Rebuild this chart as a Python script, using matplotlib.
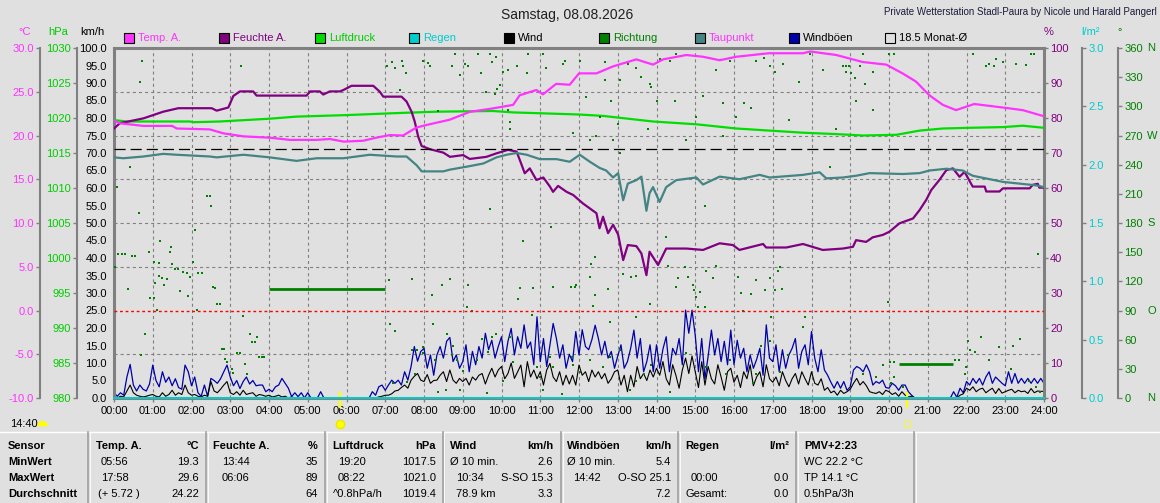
import matplotlib
matplotlib.use("Agg")
import matplotlib.pyplot as plt
import matplotlib.ticker as mtick
import matplotlib.transforms as mtrans
from matplotlib.patches import Rectangle
from matplotlib.lines import Line2D
import numpy as np

plt.rcParams["font.family"] = ["Liberation Sans", "DejaVu Sans"]
plt.rcParams["lines.scale_dashes"] = False

BG = "#E0E0E0"
AXIS_GRAY = "#808080"
TEMP_COLOR = "#FF33FF"
HUM_COLOR = "#800080"
PRES_COLOR = "#00DD00"
PRES_TEXT = "#00CC00"
RAIN_COLOR = "#00CCCC"
WIND_COLOR = "#000000"
DIR_COLOR = "#008000"
DEW_COLOR = "#448484"
GUST_COLOR = "#0000AA"

# ---- data ----------------------------------------------------------------
TEMP_H = [0.0, 0.15, 0.75, 1.5, 1.62, 2.47, 2.82, 3.34, 4.02, 4.54, 5.23, 5.57,
          5.93, 6.43, 6.77, 7.12, 7.46, 7.8, 8.06, 8.66, 9.18, 9.78, 10.3, 10.47,
          10.9, 11.07, 11.41, 11.76, 12.0, 12.45, 12.88, 13.48, 13.91, 14.17, 14.77,
          15.2, 15.63, 16.06, 16.9, 17.78, 17.97, 18.64, 19.32, 19.93, 20.35, 20.7,
          21.04, 21.39, 21.73, 22.2, 22.93, 23.45, 24.0]
TEMP_C = [21.7, 21.4, 21.1, 21.1, 20.8, 20.7, 20.25, 19.9, 19.75, 19.5, 19.5, 19.6,
          19.3, 19.4, 19.75, 20.05, 20.0, 20.9, 21.2, 21.8, 22.7, 23.1, 23.5, 24.6,
          25.2, 24.7, 25.9, 25.8, 27.1, 27.1, 27.9, 28.7, 28.1, 28.7, 29.2,
          29.0, 28.6, 29.0, 29.4, 29.4, 29.6, 29.2, 28.4, 28.1, 27.1, 26.15,
          24.6, 23.5, 22.9, 23.6, 23.2, 22.9, 22.2]

HUM_H = [0.0, 0.15, 0.76, 1.27, 1.66, 2.52, 2.65, 2.95, 3.08, 3.25, 3.59, 3.68,
         4.97, 5.06, 5.31, 5.4, 5.57, 5.83, 5.92, 6.13, 6.69, 6.86, 6.95, 7.42,
         7.55, 7.68, 7.76, 7.85, 7.94, 8.15, 8.5, 8.67, 9.01, 9.18, 9.61, 9.87,
         10.17, 10.39, 10.52, 10.6, 10.73, 10.9, 11.08, 11.25, 11.33, 11.46, 11.68,
         11.85, 12.1, 12.45, 12.53, 12.62, 12.75, 12.88, 13.01, 13.14, 13.26, 13.48,
         13.61, 13.74, 13.82, 14.04, 14.25, 14.77, 15.2, 15.63, 15.97, 16.14, 16.75,
         16.83, 17.35, 17.78, 18.29, 18.81, 19.07, 19.15, 19.41, 19.58, 19.84, 20.01,
         20.27, 20.62, 20.79, 20.96, 21.09, 21.3, 21.48, 21.65, 21.82, 21.95, 22.16,
         22.47, 22.51, 22.85, 22.94, 23.63, 23.71, 23.84, 23.88, 24.0]
HUM_PCT = [77.0, 78.5, 79.9, 81.8, 82.8, 82.8, 82.1, 83.0, 86.3, 87.6, 87.6, 86.4,
           86.4, 87.6, 87.6, 86.7, 87.6, 87.6, 88.0, 89.2, 89.2, 87.5, 86.1, 86.1,
           84.7, 81.8, 79.0, 74.7, 72.0, 71.1, 70.1, 68.9, 69.4, 68.3, 68.9, 69.9,
           70.9, 70.4, 66.6, 64.2, 65.6, 62.3, 63.0, 60.4, 58.9, 60.6, 58.9,
           58.0, 55.6, 52.8, 48.5, 51.8, 47.1, 49.5, 46.7, 39.4, 43.7, 43.4,
           41.3, 35.1, 41.8, 38.0, 42.7, 42.7, 42.3, 44.2, 43.7, 42.3, 44.0,
           43.0, 43.0, 44.0, 42.3, 42.7, 43.2, 45.1, 44.6, 45.9, 46.6, 47.5,
           49.9, 51.3, 53.7, 56.6, 59.4, 62.3, 65.1, 65.6, 63.2, 64.6, 60.4,
           60.4, 59.0, 59.0, 59.9, 59.9, 60.9, 61.2, 60.1, 60.1]

PRES_H = [0.0, 0.33, 1.96, 2.05, 2.73, 4.02, 4.71, 5.92, 7.29, 8.32, 9.78, 10.3,
          12.0, 12.62, 13.91, 15.03, 16.06, 16.92, 17.78, 18.64, 19.33, 20.19,
          20.79, 21.39, 22.08, 22.94, 23.45, 24.0]
PRES_HPA = [1019.7, 1019.5, 1019.5, 1019.4, 1019.5, 1019.9, 1020.2, 1020.4, 1020.7,
            1020.9, 1021.0, 1020.8, 1020.5, 1020.3, 1019.5, 1019.1, 1018.5, 1018.2,
            1017.9, 1017.7, 1017.5, 1017.6, 1018.2, 1018.5, 1018.6, 1018.7, 1018.9,
            1018.6]

DEW_H = [0.0, 0.24, 0.76, 1.27, 1.62, 2.48, 2.65, 3.34, 4.02, 4.71, 5.23, 5.92,
         6.6, 7.29, 7.55, 7.81, 7.94, 8.5, 8.67, 9.18, 9.53, 9.87, 10.13, 10.39,
         10.65, 10.99, 11.42, 11.76, 12.02, 12.28, 12.53, 12.7, 12.88, 13.01, 13.14,
         13.26, 13.48, 13.61, 13.74, 13.82, 13.91, 14.08, 14.25, 14.51, 15.03, 15.2,
         15.63, 16.14, 16.66, 16.92, 17.78, 18.21, 18.38, 18.81, 19.15, 19.5, 20.36,
         20.79, 21.05, 21.48, 21.9, 22.16, 22.94, 23.8, 24.0]
DEW_C = [17.5, 17.4, 17.6, 17.9, 17.8, 17.6, 17.5, 17.8, 17.5, 17.1, 17.4, 17.4,
         17.8, 17.6, 17.6, 16.6, 15.9, 15.9, 16.1, 16.5, 16.8, 17.5, 17.8, 18.0,
         17.8, 17.3, 17.3, 17.0, 17.8, 17.0, 16.3, 16.0, 15.2, 15.7, 12.6,
         14.5, 14.9, 15.3, 11.4, 13.4, 14.1, 12.4, 14.1, 14.9, 15.2, 14.4,
         15.3, 15.0, 15.5, 15.2, 15.5, 15.8, 15.1, 15.2, 15.4, 15.7, 15.6,
         15.7, 16.0, 16.2, 16.0, 15.4, 14.7, 14.3, 14.1]

# wind and gusts, 5-minute values, one row per hour
WIND_STEP_MIN = 5
GUST_KMH = [
    1.5, 0.5, 1.5, 0.8, 6.0, 9.6, 3.7, 2.0, 3.7, 2.5, 2.0, 4.0,
    9.4, 5.0, 3.2, 7.5, 4.5, 6.0, 3.5, 5.5, 3.0, 2.5, 9.4, 7.5,
    3.5, 6.0, 1.5, 0.5, 3.7, 0.5, 5.6, 5.0, 4.2, 5.5, 7.5, 9.4,
    6.0, 3.5, 5.0, 2.7, 4.7, 6.0, 4.0, 5.0, 3.5, 3.7, 3.7, 1.8,
    2.5, 1.8, 3.2, 3.7, 5.6, 4.2, 2.8, 0.4, 1.5, 0.4, 1.5, 0.0,
    1.5, 0.0, 0.0, 0.0, 1.8, 0.0, 0.0, 0.0, 0.0, 0.0, 0.0, 0.0,
    0.0, 0.0, 0.0, 0.0, 0.0, 0.0, 0.0, 0.0, 1.8, 0.8, 3.2, 3.7,
    2.2, 3.7, 5.1, 4.2, 5.1, 3.7, 7.5, 5.1, 9.0, 14.7, 10.5, 13.3,
    14.2, 8.5, 12.3, 6.5, 12.3, 14.7, 11.4, 16.2, 17.3, 10.4, 12.3, 8.5,
    10.4, 15.2, 7.5, 13.3, 9.5, 14.7, 11.4, 18.5, 13.8, 16.5, 11.4, 14.7,
    17.5, 10.4, 16.2, 19.9, 12.3, 17.5, 14.2, 20.9, 14.2, 16.0, 9.5, 23.2,
    10.4, 17.0, 9.0, 15.2, 21.3, 17.0, 11.4, 15.2, 8.5, 12.5, 10.4, 19.0,
    12.3, 19.5, 14.7, 13.8, 16.7, 20.8, 17.0, 12.3, 16.2, 11.4, 13.3, 8.5,
    12.0, 15.2, 8.5, 10.4, 14.2, 19.4, 11.4, 17.0, 7.5, 10.4, 15.2, 7.5,
    15.2, 8.5, 14.0, 17.5, 7.5, 14.2, 12.3, 17.0, 9.5, 25.1, 18.5, 25.1,
    17.9, 7.5, 17.0, 5.5, 12.0, 19.4, 12.3, 17.0, 10.4, 16.2, 9.5, 19.4,
    9.5, 16.5, 11.4, 14.2, 7.5, 12.3, 8.5, 11.0, 14.2, 6.5, 20.9, 11.4,
    10.4, 15.2, 7.5, 13.8, 8.5, 12.3, 14.2, 17.0, 8.5, 13.3, 15.2, 9.5,
    19.0, 11.4, 7.5, 13.8, 8.0, 6.5, 4.5, 2.8, 4.7, 2.8, 4.7, 2.2,
    3.2, 8.0, 9.0, 8.5, 7.5, 9.5, 7.5, 3.7, 4.7, 4.2, 5.1, 3.0,
    2.8, 4.2, 3.5, 2.2, 3.7, 3.7, 1.8, 0.8, 0.0, 0.0, 0.0, 0.0,
    0.0, 0.0, 0.0, 0.0, 0.0, 0.0, 0.0, 0.0, 1.8, 0.2, 2.8, 1.5,
    4.7, 3.7, 5.6, 4.2, 5.6, 3.7, 6.0, 7.5, 4.2, 6.0, 5.1, 4.2,
    3.5, 7.5, 4.2, 7.0, 4.2, 5.6, 4.2, 5.6, 4.2, 5.6, 4.2, 5.6,
    4.2]
WIND_KMH = [
    0.5, 0.0, 0.5, 0.3, 2.0, 3.7, 1.5, 0.8, 0.5, 0.3, 0.5, 0.8,
    1.0, 0.5, 0.3, 1.5, 0.5, 1.0, 2.2, 0.8, 1.5, 1.0, 3.7, 1.5,
    0.8, 1.0, 0.5, 0.3, 0.8, 0.5, 4.7, 2.0, 1.5, 2.5, 3.7, 4.7,
    1.5, 1.0, 1.8, 0.8, 2.2, 1.0, 1.3, 1.5, 0.5, 1.0, 0.8, 0.5,
    0.8, 0.3, 0.5, 0.8, 0.3, 0.5, 0.0, 0.3, 0.0, 0.0, 0.0, 0.0,
    0.0, 0.0, 0.0, 0.0, 0.0, 0.0, 0.0, 0.0, 0.0, 0.0, 0.0, 0.0,
    0.0, 0.0, 0.0, 0.0, 0.0, 0.0, 0.0, 0.0, 0.0, 0.0, 0.3, 0.5,
    0.8, 0.8, 1.2, 2.0, 2.2, 3.0, 3.7, 2.8, 5.1, 6.2, 7.0, 5.1,
    4.7, 6.7, 4.2, 5.0, 5.1, 6.5, 7.5, 4.7, 8.0, 5.1, 4.2, 5.6,
    4.7, 5.6, 3.7, 6.0, 5.1, 6.5, 7.0, 4.0, 6.5, 8.5, 6.0, 8.0,
    9.0, 5.5, 7.0, 10.0, 5.6, 7.5, 9.4, 3.2, 10.4, 6.0, 8.0, 5.5,
    7.5, 3.7, 8.0, 9.9, 6.0, 4.7, 7.5, 3.7, 6.5, 4.0, 6.5, 3.7,
    9.4, 6.5, 7.5, 4.7, 8.0, 6.0, 7.5, 5.5, 7.0, 4.2, 5.5, 7.5,
    8.0, 3.7, 6.5, 1.8, 6.5, 3.2, 9.0, 5.5, 7.0, 5.0, 8.0, 6.0,
    8.5, 6.5, 10.4, 5.5, 3.7, 9.5, 6.5, 2.8, 8.0, 11.4, 7.0, 12.0,
    7.5, 3.0, 10.4, 3.7, 9.0, 5.5, 4.0, 9.5, 6.0, 2.2, 7.5, 8.5,
    4.5, 6.5, 3.0, 7.5, 5.5, 9.5, 3.5, 6.0, 7.5, 3.2, 9.5, 5.5,
    4.5, 6.0, 3.5, 7.5, 5.0, 3.2, 5.5, 7.0, 4.0, 7.5, 5.5, 3.7,
    7.5, 4.2, 3.7, 5.5, 2.2, 3.0, 1.5, 2.0, 0.8, 2.2, 1.3, 1.8,
    2.5, 4.2, 5.6, 3.7, 4.7, 3.5, 1.8, 1.5, 1.3, 1.8, 1.0, 2.2,
    1.8, 1.0, 1.5, 0.5, 1.8, 0.8, 0.3, 0.5, 0.0, 0.0, 0.0, 0.0,
    0.0, 0.0, 0.0, 0.0, 0.0, 0.0, 0.0, 0.0, 0.0, 0.0, 0.8, 1.2,
    2.8, 2.2, 3.2, 1.8, 2.5, 2.8, 1.5, 2.2, 2.8, 1.3, 2.7, 1.4,
    1.8, 2.2, 2.5, 1.5, 2.2, 1.8, 2.0, 1.3, 2.7, 1.5, 2.0, 1.9,
    1.9]

RAIN_H = [0.0, 24.0]
RAIN_MM = [0.0, 0.0]

# wind direction samples (hour, degrees)
DIR_POINTS = [
    (0.72, 347), (0.67, 325), (3.27, 342), (0.07, 217), (0.40, 238), (0.65, 190),
    (2.39, 208), (2.48, 208), (2.50, 198), (2.09, 173), (1.19, 161), (1.46, 155),
    (1.45, 150), (0.11, 148), (0.20, 148), (0.29, 148), (0.46, 146), (0.54, 146),
    (0.03, 135), (0.91, 150), (1.02, 140), (1.15, 139), (1.49, 138), (1.58, 133),
    (1.66, 133), (1.79, 130), (1.89, 129), (1.95, 124), (2.05, 140), (2.18, 129),
    (2.26, 129), (1.06, 118), (1.16, 126), (1.23, 123), (1.28, 116), (1.36, 122),
    (0.35, 112), (1.71, 110), (1.92, 105), (0.93, 103), (1.02, 103), (2.55, 114),
    (2.61, 113), (2.67, 97), (2.74, 97), (1.10, 91), (2.14, 91), (0.80, 66),
    (0.69, 44), (2.78, 50), (2.85, 50), (2.87, 40), (2.91, 37), (3.04, 30),
    (3.08, 26), (3.17, 46), (3.24, 46), (3.34, 84), (3.38, 35), (3.51, 66),
    (3.55, 58), (3.64, 58), (3.68, 63), (3.75, 42), (3.81, 42), (3.87, 42),
    (3.43, 25), (7.09, 121), (7.12, 76), (7.26, 69), (7.68, 122), (7.97, 46),
    (8.21, 106), (8.22, 76), (8.67, 122), (8.47, 116), (9.13, 116), (9.23, 89),
    (9.12, 94), (9.62, 5), (9.70, 194), (10.43, 102), (10.48, 113), (10.82, 113),
    (10.56, 162), (10.78, 85), (11.34, 114), (11.29, 176), (11.89, 114),
    (11.85, 273), (7.04, 341), (7.17, 346), (7.25, 339), (7.44, 347), (7.47, 341),
    (7.54, 334), (7.98, 347), (8.11, 345), (8.15, 341), (8.80, 354), (8.71, 342),
    (8.93, 332), (9.06, 344), (9.14, 341), (9.40, 354), (9.46, 334), (9.70, 354),
    (9.75, 346), (9.87, 351), (10.05, 335), (10.17, 337), (10.39, 342),
    (10.65, 334), (10.69, 354), (11.08, 354), (11.16, 339), (11.59, 344),
    (11.64, 347), (9.83, 313), (9.60, 315), (9.89, 318), (10.17, 296),
    (10.22, 277), (10.22, 284), (8.37, 295), (7.38, 317), (9.96, 322),
    (8.37, 6), (11.25, 42), (11.34, 32), (10.05, 18), (10.30, 37), (9.36, 39),
    (9.66, 47), (9.75, 63), (9.87, 66), (9.49, 61), (8.84, 39), (9.01, 28),
    (8.76, 54), (8.28, 39), (8.60, 66), (8.71, 44), (7.98, 52), (7.81, 49),
    (7.68, 49), (7.77, 25), (7.55, 16), (10.22, 63), (10.91, 32), (10.99, 22),
    (11.08, 8), (11.55, 4), (11.81, 42), (7.21, 15), (8.58, 8), (8.93, 8),
    (12.02, 347), (12.19, 310), (12.66, 346), (12.83, 306), (12.66, 327),
    (13.05, 327), (12.53, 289), (13.01, 282), (12.88, 265), (13.05, 252),
    (13.26, 344), (13.48, 339), (13.61, 330), (13.87, 320), (14.01, 305),
    (13.78, 277), (13.82, 323), (14.08, 349), (14.34, 347), (14.49, 306),
    (14.51, 354), (14.77, 265), (15.03, 289), (15.20, 311), (15.24, 198),
    (15.54, 337), (15.71, 303), (15.89, 347), (16.06, 289), (16.27, 303),
    (16.45, 298), (16.57, 347), (16.77, 350), (16.92, 341), (17.05, 335),
    (17.26, 344), (17.43, 286), (17.69, 325), (17.95, 354), (18.29, 337),
    (18.47, 238), (18.64, 277), (18.81, 342), (18.90, 342), (18.98, 342),
    (18.90, 335), (19.03, 334), (19.11, 329), (19.15, 306), (19.24, 341),
    (19.33, 354), (19.37, 323), (19.58, 296), (19.58, 335), (20.01, 354),
    (20.14, 354), (22.16, 354), (22.51, 342), (22.72, 341), (22.77, 349),
    (22.94, 346), (23.28, 344), (23.67, 354), (23.75, 354), (23.54, 343),
    (22.59, 344), (15.71, 269), (12.45, 269), (12.28, 265),
    (11.80, 114), (11.93, 116), (12.32, 138), (12.29, 124), (12.42, 145),
    (12.40, 106), (12.36, 95), (12.75, 112), (12.79, 78), (13.14, 128),
    (13.35, 124), (13.48, 126), (13.48, 83), (13.82, 97), (14.25, 166),
    (14.30, 136), (14.51, 114), (14.55, 123), (14.73, 135), (14.81, 124),
    (14.94, 116), (14.98, 111), (15.03, 104), (15.07, 94), (15.11, 109),
    (15.24, 94), (15.29, 131), (15.46, 123), (15.54, 136), (16.10, 124),
    (16.19, 108), (16.23, 90), (16.45, 107), (16.57, 121), (16.79, 111),
    (16.92, 123), (17.05, 111), (17.13, 131), (17.18, 135), (17.25, 112),
    (16.96, 83), (17.82, 83), (17.78, 73), (17.39, 44), (17.18, 27),
    (16.92, 59), (16.70, 54), (16.57, 25), (16.49, 15), (15.89, 39),
    (15.80, 25), (15.29, 32), (14.77, 46), (14.34, 6), (13.87, 34),
    (13.69, 25), (13.48, 18), (13.31, 8), (13.05, 49), (12.79, 42),
    (12.62, 32), (12.28, 39), (12.02, 27), (11.85, 34), (19.33, 25),
    (19.67, 22), (19.97, 99), (19.84, 34), (20.06, 15), (20.14, 22),
    (20.36, 11), (21.99, 32), (21.95, 25), (22.08, 49), (22.21, 47),
    (22.03, 59), (22.59, 39), (22.38, 63), (22.85, 52), (23.20, 54),
    (23.37, 61), (23.15, 30), (23.62, 18), (23.80, 11), (23.89, 6),
    (23.84, 148), (20.02, 37), (20.12, 37), (21.70, 39), (21.80, 39),
]
# periods with constant direction
SEG_START = [4.0, 20.27]
SEG_END = [7.0, 21.66]
SEG_DEG = [112, 35]

MONTH_MEAN_C = 18.5
SUNRISE_H = 5.83
SUNSET_H = 20.47

HOUR_LABELS = [f"{h:02d}:00" for h in range(25)]
DIR_TICKS = list(range(0, 361, 30))
DIR_COMPASS = {0: "N", 90: "O", 180: "S", 270: "W", 360: "N"}

LEGEND_LABELS = ["Temp. A.", "Feuchte A.", "Luftdruck", "Regen", "Wind",
                 "Richtung", "Taupunkt", "Windböen", "18.5 Monat-Ø"]
LEGEND_FILL = [TEMP_COLOR, HUM_COLOR, PRES_COLOR, RAIN_COLOR, WIND_COLOR,
               DIR_COLOR, DEW_COLOR, GUST_COLOR, BG]
LEGEND_TEXT = [TEMP_COLOR, HUM_COLOR, PRES_TEXT, RAIN_COLOR, "black",
               DIR_COLOR, TEMP_COLOR, "black", "black"]

ROW_NAMES = ["Sensor", "MinWert", "MaxWert", "Durchschnitt"]
# header, unit, [(left, right) per row: min, max, avg]
TABLE_COLS = [
    ("Temp. A.", "°C", [("05:56", "19.3"), ("17:58", "29.6"), ("(+ 5.72 )", "24.22")]),
    ("Feuchte A.", "%", [("13:44", "35"), ("06:06", "89"), ("", "64")]),
    ("Luftdruck", "hPa", [("19:20", "1017.5"), ("08:22", "1021.0"), ("^0.8hPa/h", "1019.4")]),
    ("Wind", "km/h", [("Ø 10 min.", "2.6"), ("10:34", "S-SO 15.3"), ("78.9 km", "3.3")]),
    ("Windböen", "km/h", [("Ø 10 min.", "5.4"), ("14:42", "O-SO 25.1"), ("", "7.2")]),
    ("Regen", "l/m²", [("", ""), ("00:00", "0.0"), ("Gesamt:", "0.0")]),
]
PMV_LINES = ["PMV+2:23", "WC 22.2 °C", "TP 14.1 °C", "0.5hPa/3h"]

# ---- layout (pixels of the 1160x503 picture) ------------------------------
W, H = 1160, 503


def fx(x):
    return x / W


def fy(y):
    return 1 - y / H


def pt(px):
    return px * 72 / 100


fig = plt.figure(figsize=(W / 100, H / 100), dpi=100, facecolor=BG)
ax = fig.add_axes([fx(114), fy(398), 930 / W, 350 / H])
ax.set_facecolor(BG)
ax.set_xlim(0, 24)
ax.set_ylim(0, 100)
for s in ax.spines.values():
    s.set_color(AXIS_GRAY)
    s.set_linewidth(2.2)

ax.set_xticks(range(25))
ax.set_xticklabels(HOUR_LABELS)
ax.tick_params(axis="x", length=3, width=1, color=AXIS_GRAY, labelsize=8, pad=3)
ax.set_yticks(np.arange(0, 101, 5))
ax.yaxis.set_major_formatter(mtick.FormatStrFormatter("%.1f"))
ax.tick_params(axis="y", length=0, labelsize=8, pad=5)

# grid: hourly and at the temperature ticks (every 12.5 km/h)
ax.yaxis.remove_overlapping_locs = False
ax.set_yticks([12.5, 37.5, 50, 62.5, 75, 87.5], minor=True)
ax.tick_params(axis="y", which="minor", length=0)
ax.grid(True, which="minor", axis="y", color=AXIS_GRAY, lw=0.8, ls=(0, (2.2, 2.2)))
ax.grid(True, which="major", axis="x", color=AXIS_GRAY, lw=0.8, ls=(0, (2.2, 2.2)))


def twin(side, offset_px, lo, hi, color):
    t = ax.twinx()
    for s in t.spines.values():
        s.set_visible(False)
    t.set_ylim(lo, hi)
    t.yaxis.set_ticks_position(side)
    if offset_px:
        sp = t.spines[side]
        sp.set_visible(True)
        sp.set_position(("outward", pt(offset_px)))
        sp.set_color(AXIS_GRAY)
        sp.set_linewidth(1.5)
    t.tick_params(axis="y", length=3, width=1, color=AXIS_GRAY,
                  labelsize=8, labelcolor=color, pad=1.5)
    return t


ax_p = twin("left", 37, 980, 1030, PRES_TEXT)
ax_p.set_yticks(np.arange(980, 1031, 5))
ax_d = twin("right", 74, 0, 360, DIR_COLOR)
ax_d.set_yticks(DIR_TICKS)
ax_h = twin("right", 0, 0, 100, HUM_COLOR)
ax_h.set_yticks(np.arange(0, 101, 10))
ax_r = twin("right", 38, 0, 3, RAIN_COLOR)
ax_r.set_yticks(np.arange(0, 3.01, 0.5))
ax_r.yaxis.set_major_formatter(mtick.FormatStrFormatter("%.1f"))
ax_t = twin("left", 74, -10, 30, TEMP_COLOR)
ax_t.set_yticks(np.arange(-10, 31, 5))
ax_t.yaxis.set_major_formatter(mtick.FormatStrFormatter("%.1f"))

# compass letters next to the direction ticks
dir_tr = mtrans.blended_transform_factory(fig.transFigure, ax_d.transData)
for deg, letter in DIR_COMPASS.items():
    ax_d.text(fx(1147), deg, letter, transform=dir_tr, color=DIR_COLOR,
              fontsize=8, va="center", ha="left", clip_on=False)

# ---- series ---------------------------------------------------------------
wind_t = np.arange(len(WIND_KMH)) * WIND_STEP_MIN / 60
ax.plot(wind_t, GUST_KMH, color=GUST_COLOR, lw=0.9)
ax.plot(wind_t, WIND_KMH, color=WIND_COLOR, lw=0.8)

ax_p.plot(PRES_H, PRES_HPA, color=PRES_COLOR, lw=1.6)

dir_h = [p[0] for p in DIR_POINTS]
dir_deg = [p[1] for p in DIR_POINTS]
ax_d.plot(dir_h, dir_deg, ls="none", marker="s", ms=1.7, mew=0, color=DIR_COLOR)
ax_d.hlines(SEG_DEG, SEG_START, SEG_END, color=DIR_COLOR, lw=2)

ax_h.plot(HUM_H, HUM_PCT, color=HUM_COLOR, lw=1.6)
ax_r.plot(RAIN_H, RAIN_MM, color=RAIN_COLOR, lw=1.4, clip_on=False)

ax_t.axhline(0, color="#FF0000", lw=1, ls=(0, (2, 2)))
ax_t.axhline(MONTH_MEAN_C, color="black", lw=0.9, ls=(0, (8, 3.6)))
ax_t.plot(DEW_H, DEW_C, color=DEW_COLOR, lw=1.6)
ax_t.plot(TEMP_H, TEMP_C, color=TEMP_COLOR, lw=1.6)

# sunrise / sunset markers on the time axis
sun_tr = mtrans.blended_transform_factory(ax.transData, ax.transAxes)
for h in (SUNRISE_H, SUNSET_H):
    ax.plot([h, h], [0.014, -0.027], color="#FFFF00", lw=1.6,
            transform=sun_tr, clip_on=False)
ax.plot([SUNRISE_H], [-0.074], marker="o", ms=6, color="#FFFF00",
        mec="#E8E800", transform=sun_tr, clip_on=False)
ax.plot([SUNSET_H], [-0.074], marker="s", ms=4, mfc="none", mec="#F0F060",
        mew=1, transform=sun_tr, clip_on=False)
fig.add_artist(Line2D([fx(42)], [fy(426)], marker="o", ms=8, fillstyle="top",
                      markerfacecolor="#FFFF00", markerfacecoloralt=BG,
                      mec="none", transform=fig.transFigure))
fig.text(fx(10), fy(424), "14:40", fontsize=8, va="center", ha="left")

# ---- header texts -----------------------------------------------------------
fig.text(fx(567), fy(15), "Samstag, 08.08.2026", ha="center", va="center",
         fontsize=10, color="#202020")
fig.text(fx(1157), fy(12), "Private Wetterstation Stadl-Paura by Nicole und Harald Pangerl",
         ha="right", va="center", fontsize=7, color="#1a1a3a")

for x, txt, col in [(25, "°C", TEMP_COLOR), (58, "hPa", PRES_TEXT), (92, "km/h", "black"),
                    (1049, "%", HUM_COLOR), (1090, "l/m²", RAIN_COLOR), (1120, "°", DIR_COLOR)]:
    fig.text(fx(x), fy(32), txt, ha="center", va="center", fontsize=8, color=col)

legend_x = [124, 219, 315, 409, 504, 599, 695, 789, 885]
for x, lab, fill, tcol in zip(legend_x, LEGEND_LABELS, LEGEND_FILL, LEGEND_TEXT):
    fig.add_artist(Rectangle((fx(x), fy(43)), 10 / W, 10 / H, transform=fig.transFigure,
                             facecolor=fill, edgecolor="black", lw=0.8))
    fig.text(fx(x + 14), fy(38), lab, ha="left", va="center", fontsize=8, color=tcol)

# ---- summary table ----------------------------------------------------------
fig.add_artist(Line2D([0, 1], [fy(432), fy(432)], color="white", lw=1,
                      transform=fig.transFigure))
for x in [88, 206, 325, 443, 561, 678, 796, 914]:
    fig.add_artist(Line2D([fx(x), fx(x)], [fy(432), 0], color="#A0A0A0", lw=1.2,
                          transform=fig.transFigure))
    fig.add_artist(Line2D([fx(x + 1.5), fx(x + 1.5)], [fy(432), 0], color="white",
                          lw=0.6, transform=fig.transFigure))

row_y = [446, 462, 478, 494]
for name, y in zip(ROW_NAMES, row_y):
    fig.text(fx(8), fy(y), name, fontsize=8, fontweight="bold", va="center")

col_left = [96, 213, 332, 450, 567, 685]
col_right = [199, 318, 436, 553, 671, 789]
val_indent = [[5, 5, 2], [9, 9, 0], [6, 6, 1], [0, 6, 6], [0, 6, 0], [0, 6, 0]]
for (head, unit, rows), xl, xr, ind in zip(TABLE_COLS, col_left, col_right, val_indent):
    fig.text(fx(xl), fy(row_y[0]), head, fontsize=8, fontweight="bold", va="center")
    fig.text(fx(xr), fy(row_y[0]), unit, fontsize=8, fontweight="bold", va="center", ha="right")
    for (lt, rt), y, dx in zip(rows, row_y[1:], ind):
        fig.text(fx(xl + dx), fy(y), lt, fontsize=8, va="center")
        fig.text(fx(xr), fy(y), rt, fontsize=8, va="center", ha="right")

for i, (txt, y) in enumerate(zip(PMV_LINES, row_y)):
    fig.text(fx(804), fy(y), txt, fontsize=8, va="center",
             fontweight="bold" if i == 0 else "normal")

fig.savefig("out.png", dpi=100, facecolor=BG)
